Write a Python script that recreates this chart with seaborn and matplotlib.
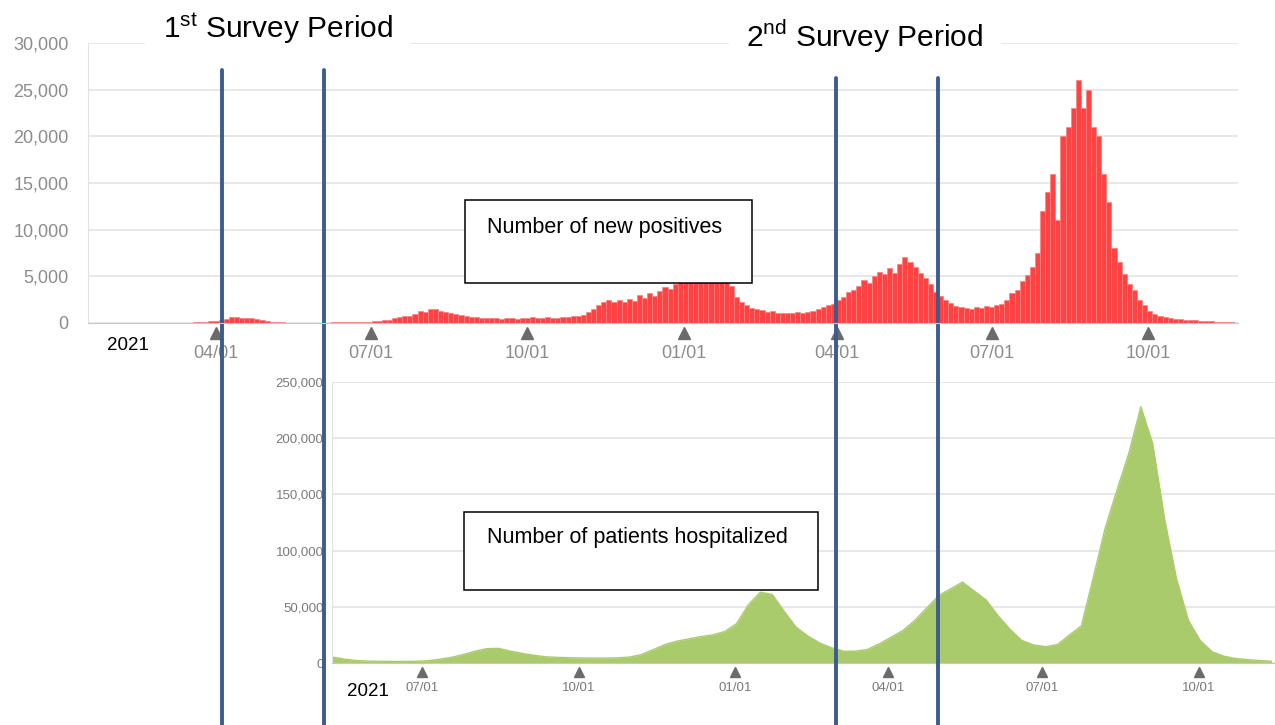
import numpy as np
import pandas as pd
import matplotlib
matplotlib.use("Agg")
import matplotlib.pyplot as plt
from matplotlib.patches import Rectangle
import seaborn as sns

sns.set_style("white")
plt.rcParams["font.family"] = ["Liberation Sans", "DejaVu Sans"]
plt.rcParams["mathtext.fontset"] = "custom"
plt.rcParams["mathtext.rm"] = "Liberation Sans"
plt.rcParams["text.color"] = "black"

# x positions are days counted from 2020-01-01
# daily new positives, one bar per 3 days starting 2020-01-17 (day 16)
# each row below covers 30 days
POS_START, POS_STEP = 16, 3
positives = [
    1, 1, 2, 3, 2, 3, 5, 4, 8, 10,                                  # day 16
    8, 15, 20, 25, 30, 35, 40, 40, 35, 45,                          # day 46
    50, 60, 90, 150, 200, 250, 350, 450, 600, 650,                  # day 76
    550, 550, 500, 400, 300, 200, 150, 100, 70, 50,                 # day 106
    40, 30, 25, 30, 40, 45, 40, 50, 60, 55,                         # day 136
    60, 80, 100, 90, 120, 150, 200, 250, 300, 350,                  # day 166
    500, 600, 700, 800, 1000, 1300, 1200, 1500, 1500, 1300,         # day 196
    1200, 1100, 1000, 900, 800, 650, 600, 550, 500, 500,            # day 226
    550, 450, 500, 550, 450, 500, 550, 600, 500, 550,               # day 256
    600, 500, 550, 650, 600, 700, 800, 900, 1200, 1500,             # day 286
    1900, 2300, 2500, 2200, 2500, 2300, 2600, 2400, 3000, 2700,     # day 316
    3200, 2900, 3400, 3900, 3600, 4200, 4800, 6000, 7000, 7800,     # day 346
    6500, 6800, 5800, 5300, 5000, 4400, 4000, 2800, 2200, 1900,     # day 376
    1600, 1500, 1400, 1200, 1300, 1100, 1050, 1100, 1050, 1150,     # day 406
    1100, 1200, 1300, 1500, 1700, 1900, 2000, 2500, 2800, 3300,     # day 436
    3500, 4000, 4600, 4300, 5000, 5500, 5200, 5900, 5400, 6300,     # day 466
    7100, 6500, 6000, 5400, 4800, 4200, 3300, 2900, 2500, 2100,     # day 496
    1800, 1700, 1600, 1500, 1700, 1600, 1800, 1700, 1900, 2000,     # day 526
    2500, 3200, 3500, 4500, 5100, 6000, 7500, 12000, 14000, 16000,  # day 556
    11000, 20000, 21000, 23000, 26000, 23000, 25000, 21000, 20000, 16000,  # day 586
    13000, 8000, 6500, 5300, 4200, 3500, 2500, 1900, 1300, 1000,    # day 616
    800, 650, 550, 450, 400, 350, 300, 280, 250, 200,               # day 646
    180, 150, 150, 120, 110,                                        # day 676
]

# patients requiring hospitalization, weekly values starting 2020-05-09 (day 129)
HOSP_START, HOSP_STEP = 129, 7
hospitalized = [
    5300, 3500, 2200, 1700, 1500, 1400, 1400, 1500, 2000, 3300, 5000, 7500, 10500, 12800,
    13000, 10500, 8500, 6800, 5500, 5000, 4700, 4500, 4400, 4400, 4600, 5300, 7500, 12000,
    16500, 19500, 21500, 23500, 25000, 28000, 35000, 52000, 63000, 61000, 46000, 32000, 24000, 17800,
    13500, 10500, 10500, 12000, 17000, 23000, 29000, 38000, 49000, 60000, 66000, 72000, 64000, 56000,
    42000, 30000, 20000, 16000, 14500, 16500, 25000, 33000, 76000, 120000, 154000, 187000, 228000, 195000,
    128000, 75000, 38000, 20000, 10000, 6000, 4000, 3000, 2200, 1600,
]

tick_days_top = [91, 182, 274, 366, 456, 547, 639]
tick_labels_top = ["04/01", "07/01", "10/01", "01/01", "04/01", "07/01", "10/01"]
tick_days_bottom = [182, 274, 366, 456, 547, 639]
tick_labels_bottom = ["07/01", "10/01", "01/01", "04/01", "07/01", "10/01"]
survey_bounds = [94.5, 154.5, 455.5, 515.5]

RED = "#ff4242"
GREEN = "#aacb6c"
NAVY = "#3c5c8e"
GRID = "#e6e6e6"

pos_df = pd.DataFrame({"day": POS_START + POS_STEP * np.arange(len(positives)),
                       "cases": positives})
hosp_df = pd.DataFrame({"day": HOSP_START + HOSP_STEP * np.arange(len(hospitalized)),
                        "patients": hospitalized})

fig = plt.figure(figsize=(12.75, 7.25), dpi=100)
ax_b = fig.add_axes([0.2604, 0.0855, 0.7396, 0.3876])
ax_t = fig.add_axes([0.069, 0.5545, 0.902, 0.386], zorder=2)
ax_t.patch.set_alpha(0)

# ---------------------------------------------------------------------------
# top: new positives
# ---------------------------------------------------------------------------
sns.barplot(data=pos_df, x="day", y="cases", native_scale=True, color=RED,
            width=1, errorbar=None, saturation=1, linewidth=0.5,
            edgecolor="#ff8080", ax=ax_t)
ax_t.set_xlim(15.7, 691.9)
ax_t.set_ylim(0, 30000)
ax_t.set_yticks(range(0, 30001, 5000))
ax_t.set_yticklabels([f"{v:,}" for v in range(0, 30001, 5000)])
ax_t.set_xticks(tick_days_top)
ax_t.set_xticklabels(tick_labels_top)
ax_t.grid(axis="y", color=GRID, lw=1.3)
ax_t.set_axisbelow(True)
ax_t.tick_params(axis="y", length=12, width=1.3, color=GRID, pad=2,
                 labelsize=13, labelcolor="#8c8c8c")
ax_t.tick_params(axis="x", length=0, pad=16, labelsize=13, labelcolor="#8c8c8c")
for side in ["top", "right"]:
    ax_t.spines[side].set_visible(False)
ax_t.spines["left"].set_color("#e2e2e2")
ax_t.spines["bottom"].set_color("#c8c8c8")
ax_t.set_xlabel("")
ax_t.set_ylabel("")
ax_t.plot(tick_days_top, [-0.036] * len(tick_days_top), ls="none", marker="^", ms=8,
          color="#6b6b6b", transform=ax_t.get_xaxis_transform(), clip_on=False)

# survey period markers
for d in survey_bounds[:2]:
    ax_t.axvline(d, ymin=-1.436, ymax=0.904, color=NAVY, lw=2.8, clip_on=False)
for d in survey_bounds[2:]:
    ax_t.axvline(d, ymin=-1.436, ymax=0.875, color=NAVY, lw=2.8, clip_on=False)

# ---------------------------------------------------------------------------
# bottom: hospitalized
# ---------------------------------------------------------------------------
sns.lineplot(data=hosp_df, x="day", y="patients", color=GREEN, lw=1, ax=ax_b)
ax_b.fill_between(hosp_df["day"], hosp_df["patients"], color=GREEN, lw=0)
ax_b.set_xlim(128.8, 684)
ax_b.set_ylim(0, 250000)
ax_b.set_yticks(range(0, 250001, 50000))
ax_b.set_yticklabels([f"{v:,}" for v in range(0, 250001, 50000)])
ax_b.set_xticks(tick_days_bottom)
ax_b.set_xticklabels(tick_labels_bottom)
ax_b.grid(axis="y", color=GRID, lw=1.3)
ax_b.set_axisbelow(True)
ax_b.tick_params(axis="y", length=5, width=1.2, color=GRID, pad=1,
                 labelsize=9.5, labelcolor="#7a7a7a")
ax_b.tick_params(axis="x", length=0, pad=14, labelsize=9.5, labelcolor="#7a7a7a")
for side in ["top", "right"]:
    ax_b.spines[side].set_visible(False)
ax_b.spines["left"].set_color("#e2e2e2")
ax_b.spines["bottom"].set_color("#c8c8c8")
ax_b.set_xlabel("")
ax_b.set_ylabel("")
ax_b.plot(tick_days_bottom, [-0.031] * len(tick_days_bottom), ls="none", marker="^", ms=6.5,
          color="#6b6b6b", transform=ax_b.get_xaxis_transform(), clip_on=False)

# ---------------------------------------------------------------------------
# annotations
# ---------------------------------------------------------------------------
W, H = 1275, 725

def fig_box(x0, y0, x1, y1):
    fig.add_artist(Rectangle((x0 / W, 1 - y1 / H), (x1 - x0) / W, (y1 - y0) / H,
                             transform=fig.transFigure, facecolor="white",
                             edgecolor="black", lw=1.1, zorder=5))

fig_box(465, 200, 752, 283)
fig.text(487 / W, 1 - 227 / H, "Number of new positives", fontsize=15.5,
         ha="left", va="center", zorder=6)
fig_box(464, 512, 818, 590)
fig.text(487 / W, 1 - 537 / H, "Number of patients hospitalized", fontsize=15.5,
         ha="left", va="center", zorder=6)

title_box = dict(boxstyle="square,pad=0.6", facecolor="white", edgecolor="none")
fig.text(278 / W, 1 - 28 / H, r"1$^{\mathrm{st}}$ Survey Period", fontsize=21.5,
         ha="center", va="center", bbox=title_box, zorder=6)
fig.text(865 / W, 1 - 36 / H, r"2$^{\mathrm{nd}}$ Survey Period", fontsize=21.5,
         ha="center", va="center", bbox=title_box, zorder=6)

fig.text(128 / W, 1 - 346 / H, "2021", fontsize=13.5, ha="center", va="center")
fig.text(368 / W, 1 - 691 / H, "2021", fontsize=13.5, ha="center", va="center")

fig.savefig("out.png", dpi=100)
